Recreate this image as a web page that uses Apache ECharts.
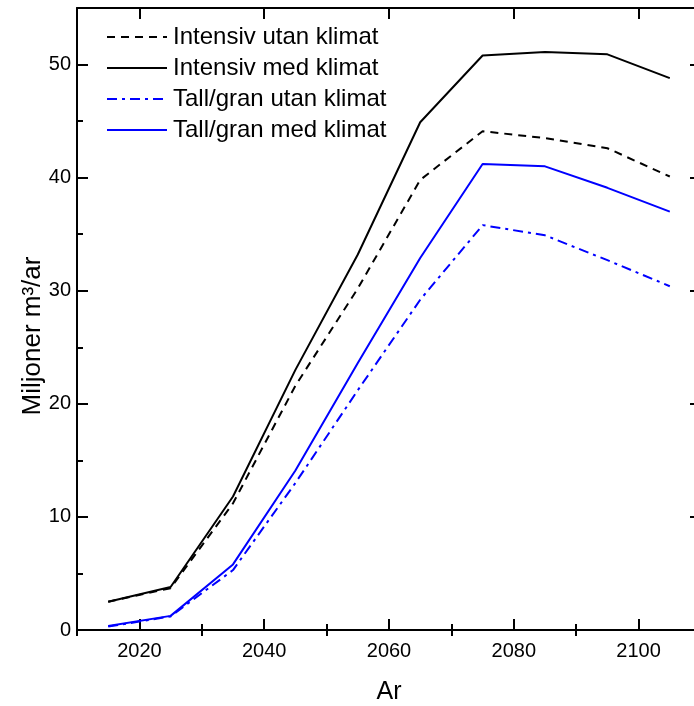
<!DOCTYPE html>
<html>
<head>
<meta charset="utf-8">
<script src="https://cdn.jsdelivr.net/npm/echarts@6/dist/echarts.min.js"></script>
<style>html,body{margin:0;padding:0;background:#fff}#c{width:694px;height:706px}</style>
</head>
<body>
<div id="c"></div>
<script>
var years = [2015, 2025, 2035, 2045, 2055, 2065, 2075, 2085, 2095, 2105];
var intensivUtan = [2.5, 3.7, 11.2, 21.6, 30.2, 39.8, 44.1, 43.5, 42.6, 40.1];
var intensivMed = [2.5, 3.8, 11.8, 23.0, 33.2, 44.9, 50.8, 51.1, 50.9, 48.8];
var tallUtan = [0.3, 1.2, 5.3, 13.0, 21.2, 29.2, 35.8, 34.9, 32.7, 30.4];
var tallMed = [0.35, 1.25, 5.8, 14.1, 23.6, 32.9, 41.2, 41.0, 39.1, 37.0];
var names = ['Intensiv utan klimat', 'Intensiv med klimat', 'Tall/gran utan klimat', 'Tall/gran med klimat'];
var xMajorTicks = [2020, 2040, 2060, 2080, 2100];
var xMinorTicks = [2010, 2030, 2050, 2070, 2090, 2110];
var yMajorTicks = [0, 10, 20, 30, 40, 50];
var yMinorTicks = [5, 15, 25, 35, 45];

function pairs(v){ return years.map(function(y,i){ return [y, v[i]]; }); }
var FONT = '"Liberation Sans", Arial, sans-serif';
var LS = {color:'#000', width:2};
function majorTick(vals){ return {show:true, inside:true, length:11, lineStyle:LS, customValues:vals}; }
function minorTick(vals){ return {show:true, inside:true, length:6, lineStyle:LS, customValues:vals}; }
var lineOn = {show:true, onZero:false, lineStyle:LS};
var lineOff = {show:false};
var noLabel = {show:false};
var xBase = {type:'value', min:2010, max:2110, interval:10, splitLine:{show:false}};
var yBase = {type:'value', min:0, max:55, interval:5, splitLine:{show:false}};
function ext(a,b){ var o={}; for(var k in a) o[k]=a[k]; for(var k2 in b) o[k2]=b[k2]; return o; }

var chart = echarts.init(document.getElementById('c'));
chart.setOption({
  animation:false,
  backgroundColor:'#fff',
  grid:{left:77, top:8, width:624, height:622, outerBoundsMode:'none', containLabel:false},
  legend:{
    orient:'vertical', left:101, top:20, itemWidth:60, itemHeight:2, itemGap:7,
    itemStyle:{opacity:0},
    textStyle:{fontFamily:FONT, fontSize:24, color:'#000', padding:[0,0,0,1], lineHeight:24},
    data:names
  },
  xAxis:[
    ext(xBase, {position:'bottom',
      name:'Ar', nameLocation:'middle', nameGap:50, nameMoveOverlap:false,
      nameTextStyle:{fontFamily:FONT, fontSize:25, color:'#000'},
      axisLine:lineOn, axisTick:majorTick(xMajorTicks),
      axisLabel:{fontFamily:FONT, fontSize:20, color:'#000', margin:11, customValues:xMajorTicks,
        formatter:function(v){ return String(v); }}}),
    ext(xBase, {position:'bottom', axisLine:lineOff, axisTick:minorTick(xMinorTicks), axisLabel:noLabel}),
    ext(xBase, {position:'top', axisLine:lineOn, axisTick:majorTick(xMajorTicks), axisLabel:noLabel}),
    ext(xBase, {position:'top', axisLine:lineOff, axisTick:minorTick(xMinorTicks), axisLabel:noLabel})
  ],
  yAxis:[
    ext(yBase, {position:'left',
      name:'Miljoner m³/ar', nameLocation:'middle', nameGap:31, nameMoveOverlap:false,
      nameTextStyle:{fontFamily:FONT, fontSize:26, color:'#000', padding:[0,34,0,0]},
      axisLine:lineOn, axisTick:majorTick(yMajorTicks),
      axisLabel:{fontFamily:FONT, fontSize:20, color:'#000', margin:6, customValues:yMajorTicks,
        formatter:function(v){ return String(v); }}}),
    ext(yBase, {position:'left', axisLine:lineOff, axisTick:minorTick(yMinorTicks), axisLabel:noLabel}),
    ext(yBase, {position:'right', axisLine:lineOn, axisTick:majorTick(yMajorTicks), axisLabel:noLabel}),
    ext(yBase, {position:'right', axisLine:lineOff, axisTick:minorTick(yMinorTicks), axisLabel:noLabel})
  ],
  series:[
    {name:names[0], type:'line', symbol:'none', data:pairs(intensivUtan), color:'#000',
      lineStyle:{color:'#000', width:2, type:[8,6]}},
    {name:names[1], type:'line', symbol:'none', data:pairs(intensivMed), color:'#000',
      lineStyle:{color:'#000', width:2, type:'solid'}},
    {name:names[2], type:'line', symbol:'none', data:pairs(tallUtan), color:'#0000ff',
      lineStyle:{color:'#0000ff', width:2, type:[10,5,3,5]}},
    {name:names[3], type:'line', symbol:'none', data:pairs(tallMed), color:'#0000ff',
      lineStyle:{color:'#0000ff', width:2, type:'solid'}}
  ]
});
</script>
</body>
</html>
